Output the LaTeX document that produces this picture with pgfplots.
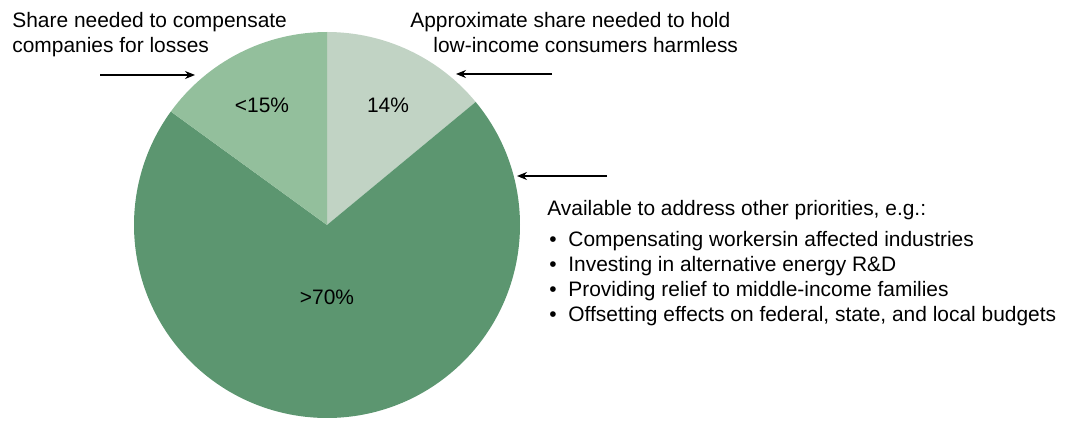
\documentclass[border=0pt]{standalone}
\usepackage{pgfplots}
\pgfplotsset{compat=1.18}
\usetikzlibrary{arrows.meta}
\usepackage{fontspec}
\setmainfont{Liberation Sans}
\definecolor{cA}{HTML}{C1D3C4}
\definecolor{cB}{HTML}{93BF9C}
\definecolor{cC}{HTML}{5C9670}
% slice shares (percent)
\def\sA{14}% low-income consumers
\def\sC{71}% other priorities
\def\sB{15}% companies
\pgfmathsetmacro{\aZ}{90}
\pgfmathsetmacro{\aA}{\aZ-3.6*\sA}
\pgfmathsetmacro{\aC}{\aA-3.6*\sC}
\pgfmathsetmacro{\aB}{\aC-3.6*\sB}
\begin{document}
\begin{tikzpicture}[font=\fontsize{10.5}{12.5}\selectfont]
\begin{axis}[width=533.5bp,height=208.5bp,scale only axis,
  xmin=0,xmax=1067,ymin=0,ymax=417,hide axis,clip=false]
\addplot[draw=none] coordinates {(0,0) (1067,417)};
\fill[cA] (axis cs:327,192) -- ++(\aZ:96.5bp) arc[start angle=\aZ,end angle=\aA,radius=96.5bp] -- cycle;
\fill[cC] (axis cs:327,192) -- ++(\aA:96.5bp) arc[start angle=\aA,end angle=\aC,radius=96.5bp] -- cycle;
\fill[cB] (axis cs:327,192) -- ++(\aC:96.5bp) arc[start angle=\aC,end angle=\aB,radius=96.5bp] -- cycle;
\node at (axis cs:262,312) {<15\%};
\node at (axis cs:388,312) {14\%};
\node at (axis cs:327,120) {>70\%};
\node[anchor=base west,inner sep=0] at (axis cs:12,389) {Share needed to compensate};
\node[anchor=base west,inner sep=0] at (axis cs:12,364) {companies for losses};
\node[anchor=base west,inner sep=0] at (axis cs:410,389) {Approximate share needed to hold};
\node[anchor=base west,inner sep=0] at (axis cs:433,364) {low-income consumers harmless};
\node[anchor=base west,inner sep=0] at (axis cs:547,201) {Available to address other priorities, e.g.:};
\node[anchor=base,inner sep=0] at (axis cs:553,170) {\textbullet};
\node[anchor=base,inner sep=0] at (axis cs:553,145) {\textbullet};
\node[anchor=base,inner sep=0] at (axis cs:553,120) {\textbullet};
\node[anchor=base,inner sep=0] at (axis cs:553,95) {\textbullet};
\node[anchor=base west,inner sep=0] at (axis cs:568,170) {Compensating workersin affected industries};
\node[anchor=base west,inner sep=0] at (axis cs:568,145) {Investing in alternative energy R\&D};
\node[anchor=base west,inner sep=0] at (axis cs:568,120) {Providing relief to middle-income families};
\node[anchor=base west,inner sep=0] at (axis cs:568,95) {Offsetting effects on federal, state, and local budgets};
\draw[line width=0.6bp,-{Stealth[length=5bp,width=4bp]}] (axis cs:100,342) -- (axis cs:195,342);
\draw[line width=0.6bp,-{Stealth[length=5bp,width=4bp]}] (axis cs:552,343) -- (axis cs:456,343);
\draw[line width=0.6bp,-{Stealth[length=5bp,width=4bp]}] (axis cs:607,241) -- (axis cs:517,241);
\end{axis}
\end{tikzpicture}
\end{document}
